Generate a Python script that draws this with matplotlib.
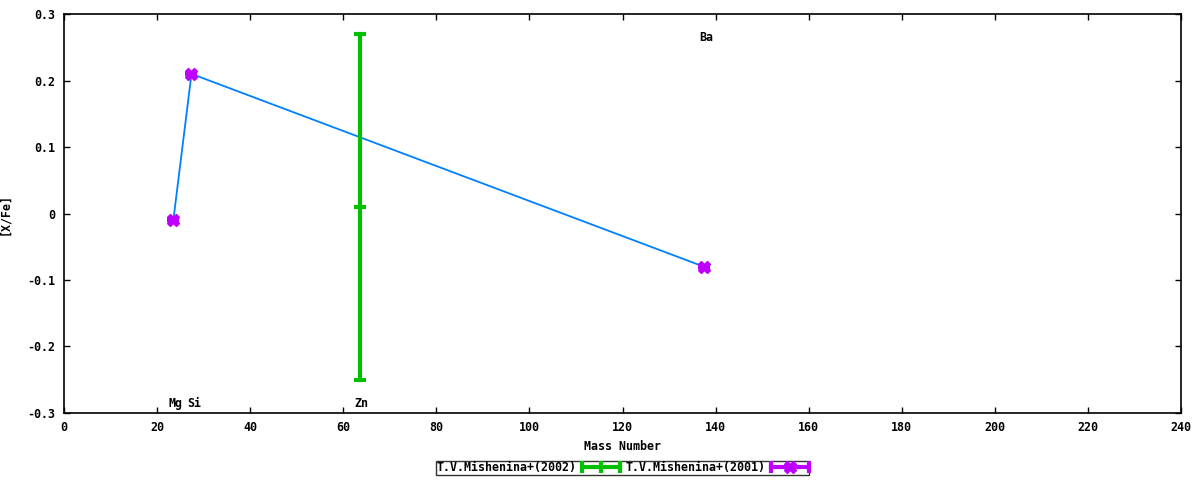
import matplotlib
matplotlib.use("Agg")
import matplotlib.pyplot as plt
from matplotlib.lines import Line2D
from matplotlib.legend_handler import HandlerBase

# T.V.Mishenina+(2002)
zn_mass = [63.5]
zn_val = [0.01]
zn_err = [0.26]

# T.V.Mishenina+(2001)
el_mass = [23.5, 27.4, 137.5]
el_val = [-0.01, 0.21, -0.08]
el_err = [0.0, 0.0, 0.0]

# element labels
lab_names = ["Mg", "Si", "Zn", "Ba"]
lab_x = [24, 28, 64, 138]
lab_y = [-0.285, -0.285, -0.285, 0.264]

xticks = list(range(0, 241, 20))
yticks = [-0.3, -0.2, -0.1, 0, 0.1, 0.2, 0.3]
ytick_labels = ["-0.3", "-0.2", "-0.1", "0", "0.1", "0.2", "0.3"]

green = '#00c000'
purple = '#c000ff'
blue = '#0080ff'


class HorizErrHandler(HandlerBase):
    '''gnuplot-like legend sample: horizontal bar with end caps'''
    def __init__(self, color, marker, ms, mew):
        super().__init__()
        self.color = color
        self.marker = marker
        self.ms = ms
        self.mew = mew

    def create_artists(self, legend, orig_handle, xdescent, ydescent,
                       width, height, fontsize, trans):
        y = height / 2 - ydescent
        x0 = -xdescent
        x1 = x0 + width
        bar = Line2D([x0, x1], [y, y], color=self.color, lw=3)
        caps = Line2D([x0, x1], [y, y], color=self.color, linestyle='none',
                      marker='|', markersize=8, markeredgewidth=3)
        mid = Line2D([(x0 + x1) / 2], [y], color=self.color, linestyle='none',
                     marker=self.marker, markersize=self.ms,
                     markeredgewidth=self.mew)
        for a in (bar, caps, mid):
            a.set_transform(trans)
        return [bar, caps, mid]


plt.rcParams['font.family'] = ['DejaVu Sans Mono']
plt.rcParams['font.weight'] = 'bold'
plt.rcParams['font.size'] = 8.4

fig = plt.figure(figsize=(12, 4.8), dpi=100)
ax = fig.add_axes([0.0533, 0.1396, 0.9309, 0.8312])

ax.plot(el_mass, el_val, color=blue, lw=1.3, zorder=2)

ax.errorbar(zn_mass, zn_val, yerr=zn_err, color=green, lw=3, capsize=4,
            capthick=3, marker='_', markersize=9, markeredgewidth=3, zorder=3)
ax.errorbar(el_mass, el_val, yerr=el_err, color=purple, lw=3, capsize=4,
            capthick=3, marker='X', markersize=8, linestyle='none', zorder=4)

for name, x, y in zip(lab_names, lab_x, lab_y):
    ax.text(x, y, name, ha='center', va='center', fontweight='bold')

ax.set_xlim(0, 240)
ax.set_ylim(-0.3, 0.3)
ax.set_xticks(xticks)
ax.set_yticks(yticks)
ax.set_yticklabels(ytick_labels)
ax.tick_params(direction='in', top=True, right=True, length=4, width=1, pad=6)
for s in ax.spines.values():
    s.set_linewidth(1.2)

ax.set_xlabel("Mass Number", fontweight='bold', labelpad=4)
ax.set_ylabel("[X/Fe]", fontweight='bold', labelpad=12)

# legend with custom horizontal errorbar samples
h_2002 = Line2D([], [])
h_2001 = Line2D([], [])
leg = ax.legend([h_2002, h_2001], ["T.V.Mishenina+(2002)", "T.V.Mishenina+(2001)"],
                handler_map={h_2002: HorizErrHandler(green, '|', 8, 3),
                             h_2001: HorizErrHandler(purple, 'X', 8, 1)},
                loc='upper center', bbox_to_anchor=(0.5, -0.12), ncol=2,
                markerfirst=False, frameon=True, fancybox=False,
                borderpad=0.05, handlelength=3.2, columnspacing=0.5,
                handletextpad=0.5, borderaxespad=0)
leg.get_frame().set_edgecolor('black')
leg.get_frame().set_linewidth(1)

fig.savefig("out.png", dpi=100)
